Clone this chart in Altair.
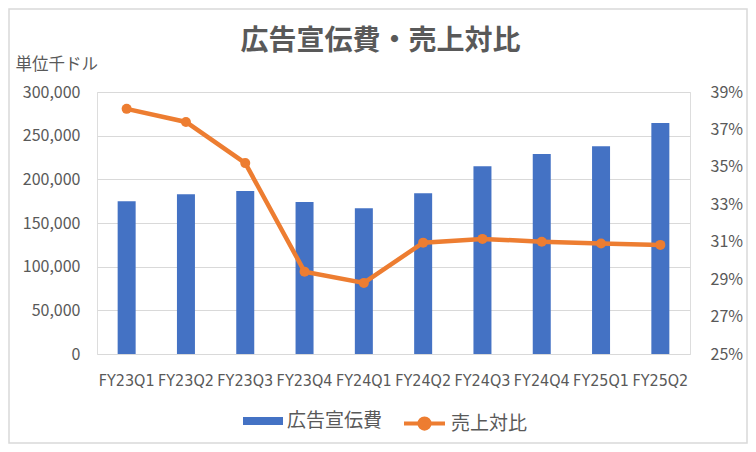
import altair as alt
import pandas as pd

categories = ["FY23Q1", "FY23Q2", "FY23Q3", "FY23Q4", "FY24Q1",
              "FY24Q2", "FY24Q3", "FY24Q4", "FY25Q1", "FY25Q2"]
ad_spend = [175000, 183000, 186500, 174000, 167000,
            184000, 215000, 229000, 238000, 264500]
sales_ratio = [0.381, 0.374, 0.352, 0.294, 0.288,
               0.3095, 0.3115, 0.310, 0.309, 0.3083]
left_ticks = [0, 50000, 100000, 150000, 200000, 250000, 300000]
right_ticks = [0.25, 0.27, 0.29, 0.31, 0.33, 0.35, 0.37, 0.39]

BAR_NAME = "広告宣伝費"
LINE_NAME = "売上対比"
BLUE = "#4472C4"
ORANGE = "#ED7D31"
GREY = "#595959"
JP = "Noto Sans CJK JP"
NARROW = "DejaVu Sans Condensed, Liberation Sans"

df = pd.DataFrame({
    "quarter": categories,
    "ad": ad_spend,
    "ratio": sales_ratio,
    "bar_series": BAR_NAME,
    "line_series": LINE_NAME,
})

x_enc = alt.X(
    "quarter:N", sort=categories,
    scale=alt.Scale(paddingInner=0, paddingOuter=0),
    axis=alt.Axis(title=None, labelAngle=0, labelFont=NARROW, labelFontSize=16,
                  labelColor=GREY, labelPadding=18, ticks=False, domain=False,
                  grid=False, labelOverlap=False),
)

base = alt.Chart(df)

bars = base.mark_bar(size=18).encode(
    x=x_enc,
    y=alt.Y("ad:Q", scale=alt.Scale(domain=[0, 300000], nice=False),
            axis=alt.Axis(values=left_ticks, format=",.0f", title="単位千ドル",
                          titleAngle=0, titleX=-82, titleY=-28, titleAlign="left",
                          titleBaseline="middle", titleFont=JP, titleFontSize=16.5,
                          titleFontWeight="normal", titleColor=GREY,
                          labelFont=JP, labelFontSize=16, labelColor=GREY,
                          labelPadding=17, ticks=False, domain=False,
                          grid=True, gridColor="#d9d9d9", gridWidth=1)),
    fill=alt.Fill("bar_series:N", scale=alt.Scale(domain=[BAR_NAME], range=[BLUE]),
                  legend=alt.Legend(title=None, orient="none", legendX=146, legendY=309,
                                    direction="horizontal",
                                    symbolType="M-1,-0.2H1V0.2H-1Z", symbolSize=1600,
                                    symbolStrokeWidth=0, labelFont=JP, labelFontSize=19,
                                    labelColor=GREY, labelOffset=4)),
)

y_right = alt.Y("ratio:Q", scale=alt.Scale(domain=[0.25, 0.39], nice=False),
                axis=alt.Axis(orient="right", values=right_ticks, format=".0%", title=None,
                              labelFont=JP, labelFontSize=16, labelColor=GREY,
                              labelPadding=20, ticks=False, domain=False, grid=False))

line = base.mark_line(strokeWidth=4.5).encode(
    x=x_enc,
    y=y_right,
    stroke=alt.Stroke("line_series:N", scale=alt.Scale(domain=[LINE_NAME], range=[ORANGE]),
                      legend=alt.Legend(title=None, orient="none", legendX=305, legendY=309,
                                        direction="horizontal",
                                        symbolType="M-1,0H1M-0.25,0A0.25,0.25,0,1,1,0.25,0A0.25,0.25,0,1,1,-0.25,0Z",
                                        symbolSize=1681, symbolStrokeWidth=4,
                                        symbolFillColor=ORANGE, symbolStrokeColor=ORANGE,
                                        labelFont=JP, labelFontSize=19,
                                        labelColor=GREY, labelOffset=4)),
)

points = base.mark_point(filled=True, size=100, color=ORANGE, opacity=1).encode(
    x=x_enc,
    y=alt.Y("ratio:Q", scale=alt.Scale(domain=[0.25, 0.39], nice=False), axis=None),
)

border = alt.Chart(pd.DataFrame({"k": [0]})).mark_rect(
    fill=None, stroke="#d9d9d9", strokeWidth=1.5
).encode(
    x=alt.value(-88), x2=alt.value(650), y=alt.value(-83), y2=alt.value(351)
)

chart = alt.layer(bars, line, points, border).resolve_scale(
    y="independent"
).properties(
    width=593, height=262,
    title=alt.TitleParams("広告宣伝費・売上対比", font=JP, fontSize=28, fontWeight="bold",
                          color=GREY, anchor="middle", dx=-13, dy=52),
    autosize=alt.AutoSizeParams(type="none"),
    padding={"left": 89, "top": 84, "right": 58, "bottom": 90},
).configure_view(stroke=None).configure(background="white")

chart.save("out.html", embed_options={"renderer": "svg", "actions": False})
